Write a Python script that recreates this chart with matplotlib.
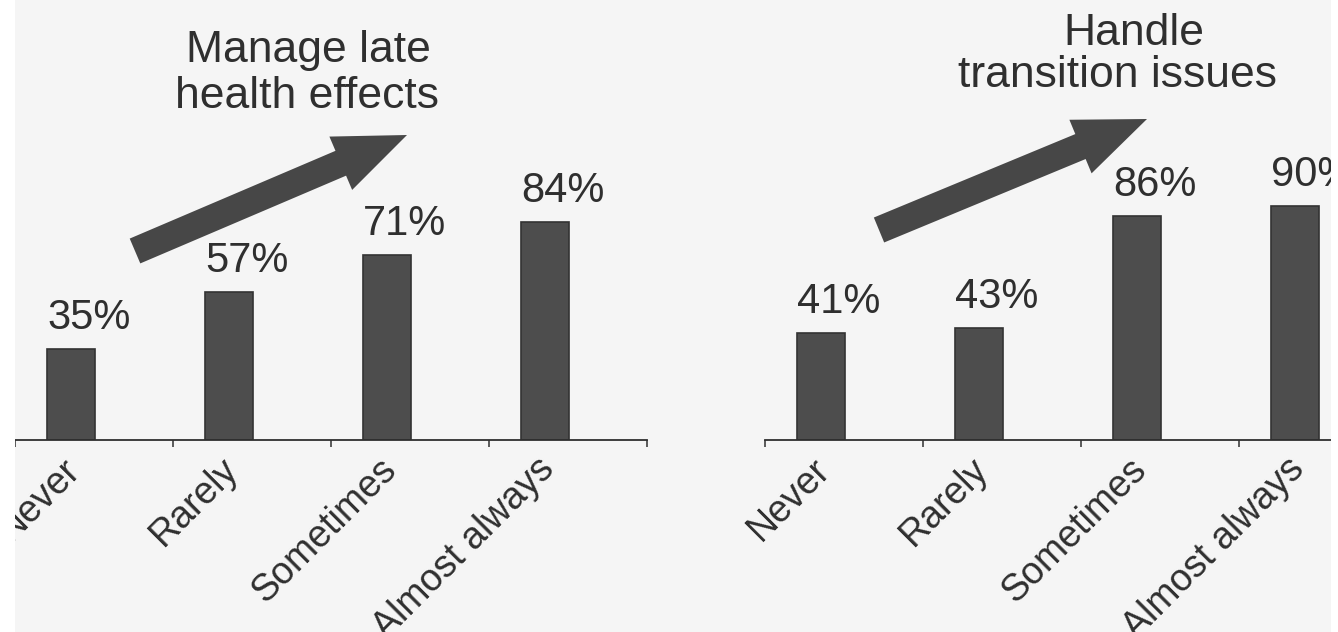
import matplotlib
matplotlib.use('Agg')
import matplotlib.pyplot as plt
import numpy as np
from matplotlib.patches import FancyArrow, Rectangle

plt.rcParams['font.family'] = ['Liberation Sans', 'DejaVu Sans']

# ---------------- data ----------------
categories = ['Never', 'Rarely', 'Sometimes', 'Almost always']
late_effects = [35, 57, 71, 84]
transition = [41, 43, 86, 90]
title_left = ['Manage late', 'health effects']
title_right = ['Handle', 'transition issues']

# ---------------- layout (pixels) ----------------
W, H = 1338, 632
BG = '#f5f5f5'
INK = '#2f2f2f'
BAR = '#4d4d4d'
BAR_EDGE = '#333333'
PX_PER_UNIT = 158.0
PX_PER_PCT = 2.6
AX_H_PX = 400
BASELINE = 440
OFFSET = 0.354        # category boundary offset from bar centre
LABEL_SHIFT = 9 / PX_PER_UNIT  # rotated labels sit slightly left of the bar centre

fig = plt.figure(figsize=(W / 100, H / 100), dpi=100, facecolor=BG)


def make_panel(left_px, values):
    ax = fig.add_axes([left_px / W, (H - BASELINE) / H,
                       4 * PX_PER_UNIT / W, AX_H_PX / H])
    ax.patch.set_alpha(0)
    x = np.arange(len(categories))
    ax.bar(x, values, width=0.3, color=BAR, edgecolor=BAR_EDGE, linewidth=1.2)
    ax.set_xlim(-OFFSET, len(categories) - OFFSET)
    ax.set_ylim(0, AX_H_PX / PX_PER_PCT)
    for s in ['top', 'left', 'right']:
        ax.spines[s].set_visible(False)
    ax.spines['bottom'].set_color(INK)
    ax.spines['bottom'].set_linewidth(1.3)
    ax.set_yticks([])
    ax.set_xticks(x - LABEL_SHIFT)
    ax.set_xticklabels(categories, rotation=45, ha='right', va='top',
                       rotation_mode='anchor', fontsize=27, color=INK)
    ax.tick_params(axis='x', which='major', length=0, pad=8)
    ax.set_xticks(np.arange(len(categories) + 1) - OFFSET, minor=True)
    ax.tick_params(axis='x', which='minor', length=5, width=1.1,
                   direction='out', color=INK)
    for i, v in enumerate(values):
        ax.annotate(f'{v}%', xy=(i - 0.15, v), xytext=(0, 14.4),
                    textcoords='offset points', ha='left', va='baseline',
                    fontsize=30, color=INK)
    return ax


make_panel(15, late_effects)
make_panel(765, transition)

# overlay in pixel coordinates for titles and arrows
ov = fig.add_axes([0, 0, 1, 1], zorder=1)
ov.set_xlim(0, W)
ov.set_ylim(H, 0)
ov.axis('off')
ov.patch.set_alpha(0)

ARROW = '#474747'
for (x0, y0, x1, y1) in [(135, 251, 407, 135), (879, 230, 1147, 119)]:
    ov.add_patch(FancyArrow(x0, y0, x1 - x0, y1 - y0, width=27,
                            head_width=58, head_length=72,
                            length_includes_head=True,
                            color=ARROW, linewidth=0))

ov.text(308, 62, title_left[0], ha='center', va='baseline', fontsize=32, color=INK)
ov.text(307, 108, title_left[1], ha='center', va='baseline', fontsize=32, color=INK)
ov.text(1134, 45, title_right[0], ha='center', va='baseline', fontsize=32, color=INK)
ov.text(1117, 87, title_right[1], ha='center', va='baseline', fontsize=32, color=INK)

# white scan margins
fig.add_artist(Rectangle((0, 0), 15 / W, 1, transform=fig.transFigure,
                         facecolor='white', edgecolor='none', zorder=10))
fig.add_artist(Rectangle((1331 / W, 0), 7 / W, 1, transform=fig.transFigure,
                         facecolor='white', edgecolor='none', zorder=10))

fig.savefig('out.png', dpi=100, facecolor=BG)
